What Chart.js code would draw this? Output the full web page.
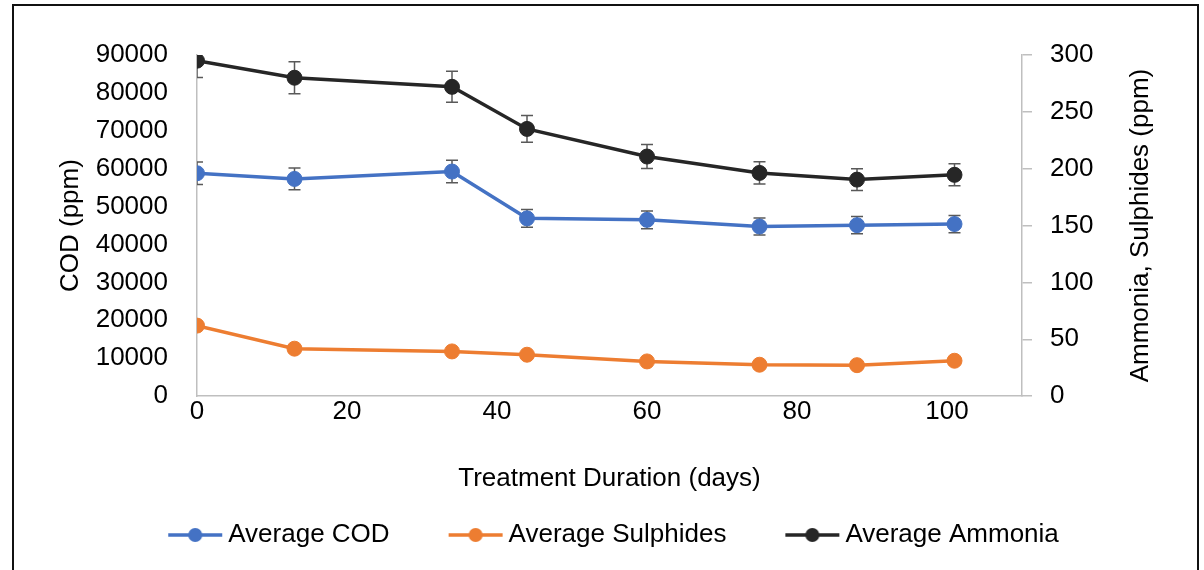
<!DOCTYPE html>
<html>
<head>
<meta charset="utf-8">
<script src="https://cdn.jsdelivr.net/npm/chart.js@4/dist/chart.umd.min.js"></script>
<style>
  html, body { margin: 0; padding: 0; background: #fff; overflow: hidden; }
  #frame { position: absolute; left: 12px; top: 4px; width: 1183px; height: 620px;
           border: 2px solid #111; border-bottom: none; }
  #wrap { position: absolute; left: 0; top: 0; width: 1204px; height: 570px; }
</style>
</head>
<body>
<div id="frame"></div>
<div id="wrap"><canvas id="canvas" width="1204" height="570"></canvas></div>
<script>
// data
const days = [0, 13, 34, 44, 60, 75, 88, 101];
const cod = [58800, 57300, 59250, 46900, 46500, 44750, 45100, 45400];
const sulphides = [62, 41.7, 39.3, 36.4, 30.5, 27.6, 27.2, 31.1];
const ammonia = [295, 280, 272, 235, 210.7, 196.3, 190.4, 194.6];

// error bar half-lengths (same units as the series)
const codErr = [2940, 2870, 2960, 2345, 2325, 2240, 2255, 2270];
const sulphidesErr = [3.1, 2.1, 2.0, 1.8, 1.5, 1.4, 1.4, 1.6];
const ammoniaErr = [14.8, 14.0, 13.6, 11.8, 10.5, 9.8, 9.5, 9.7];

const seriesNames = ["Average COD", "Average Sulphides", "Average Ammonia"];
const colors = ["#4472C4", "#ED7D31", "#262626"];
const xTicks = [0, 20, 40, 60, 80, 100];

const FONT = "'Liberation Sans', Arial, sans-serif";

function pts(ys) {
  return days.map(function (d, i) {
    return { x: d, y: ys[i] };
  });
}

function mkDataset(label, ys, errs, color, axis) {
  return {
    label: label,
    data: pts(ys),
    errors: errs,
    yAxisID: axis,
    borderColor: color,
    backgroundColor: color,
    borderWidth: 3.5,
    pointRadius: 7.5,
    pointHoverRadius: 7.5,
    pointBorderWidth: 1,
    tension: 0,
  };
}

// small line+dot swatch for the legend
function swatch(color) {
  const c = document.createElement("canvas");
  c.width = 56;
  c.height = 16;
  const g = c.getContext("2d");
  g.strokeStyle = color;
  g.lineWidth = 3.5;
  g.beginPath();
  g.moveTo(1, 8);
  g.lineTo(55, 8);
  g.stroke();
  g.fillStyle = color;
  g.beginPath();
  g.arc(28, 8, 7, 0, Math.PI * 2);
  g.fill();
  return c;
}

// error bars, drawn under the markers and clipped to the plot
const errorBars = {
  id: "errorBars",
  beforeDatasetsDraw(chart) {
    const ctx = chart.ctx;
    const area = chart.chartArea;
    ctx.save();
    ctx.beginPath();
    ctx.rect(area.left, area.top, area.right - area.left, area.bottom - area.top);
    ctx.clip();
    ctx.strokeStyle = "#595959";
    ctx.lineWidth = 1.5;
    chart.data.datasets.forEach(function (ds) {
      const ys = chart.scales[ds.yAxisID];
      ds.data.forEach(function (p, i) {
        const x = chart.scales.x.getPixelForValue(p.x);
        const top = ys.getPixelForValue(p.y + ds.errors[i]);
        const bot = ys.getPixelForValue(p.y - ds.errors[i]);
        ctx.beginPath();
        ctx.moveTo(x, top);
        ctx.lineTo(x, bot);
        ctx.moveTo(x - 6, top);
        ctx.lineTo(x + 6, top);
        ctx.moveTo(x - 6, bot);
        ctx.lineTo(x + 6, bot);
        ctx.stroke();
      });
    });
    ctx.restore();
  },
};

// right axis title reads bottom-to-top in the original
const rightTitle = {
  id: "rightTitle",
  afterDraw(chart) {
    const s = chart.scales.y1;
    const ctx = chart.ctx;
    ctx.save();
    ctx.translate(s.left + 119, (s.top + s.bottom) / 2);
    ctx.rotate(-Math.PI / 2);
    ctx.font = "26px " + FONT;
    ctx.fillStyle = "#000";
    ctx.textAlign = "center";
    ctx.textBaseline = "middle";
    ctx.fillText("Ammonia, Sulphides (ppm)", 0, 0);
    ctx.restore();
  },
};

const config = {
  type: "line",
  data: {
    datasets: [
      mkDataset(seriesNames[0], cod, codErr, colors[0], "y"),
      mkDataset(seriesNames[1], sulphides, sulphidesErr, colors[1], "y1"),
      mkDataset(seriesNames[2], ammonia, ammoniaErr, colors[2], "y1"),
    ],
  },
  options: {
    responsive: false,
    animation: false,
    layout: { padding: { left: 55, right: 25, top: 55, bottom: 12 } },
    plugins: {
      tooltip: { enabled: false },
      legend: {
        position: "bottom",
        labels: {
          color: "#000",
          font: { size: 26, family: FONT },
          usePointStyle: true,
          pointStyleWidth: 40,
          padding: 66,
          generateLabels(chart) {
            return chart.data.datasets.map(function (ds, i) {
              return {
                text: ds.label,
                pointStyle: swatch(colors[i]),
                fillStyle: colors[i],
                strokeStyle: colors[i],
                lineWidth: 0,
                datasetIndex: i,
                hidden: false,
                fontColor: "#000",
              };
            });
          },
        },
      },
    },
    scales: {
      x: {
        type: "linear",
        min: 0,
        max: 110,
        afterBuildTicks(scale) {
          scale.ticks = xTicks.map(function (v) {
            return { value: v };
          });
        },
        grid: { display: false, drawTicks: false },
        border: { display: true, color: "#BFBFBF", width: 1.5 },
        ticks: { color: "#000", font: { size: 26, family: FONT }, padding: 0, maxRotation: 0 },
        title: {
          display: true,
          text: "Treatment Duration (days)",
          color: "#000",
          font: { size: 26, family: FONT },
          padding: { top: 36, bottom: -38.5 },
        },
      },
      y: {
        position: "left",
        min: 0,
        max: 90000,
        ticks: {
          stepSize: 10000,
          autoSkip: false,
          color: "#000",
          font: { size: 26, family: FONT },
          padding: 29,
          callback: function (v) {
            return String(v);
          },
        },
        grid: { display: false, drawTicks: false },
        border: { display: true, color: "#BFBFBF", width: 1.5 },
        title: {
          display: true,
          text: "COD (ppm)",
          color: "#000",
          font: { size: 26, family: FONT },
          padding: { top: 0, bottom: 0 },
        },
        afterFit(scale) {
          scale.width = 142;
        },
      },
      y1: {
        position: "right",
        min: 0,
        max: 300,
        ticks: {
          stepSize: 50,
          autoSkip: false,
          color: "#000",
          font: { size: 26, family: FONT },
          padding: 18,
        },
        grid: { drawOnChartArea: false, drawTicks: true, tickLength: 10, color: "#BFBFBF", lineWidth: 1.5 },
        border: { display: true, color: "#BFBFBF", width: 1.5 },
        afterFit(scale) {
          scale.width = 157;
        },
      },
    },
  },
  plugins: [errorBars, rightTitle],
};

const myChart = new Chart(document.getElementById("canvas"), config);
</script>
</body>
</html>
